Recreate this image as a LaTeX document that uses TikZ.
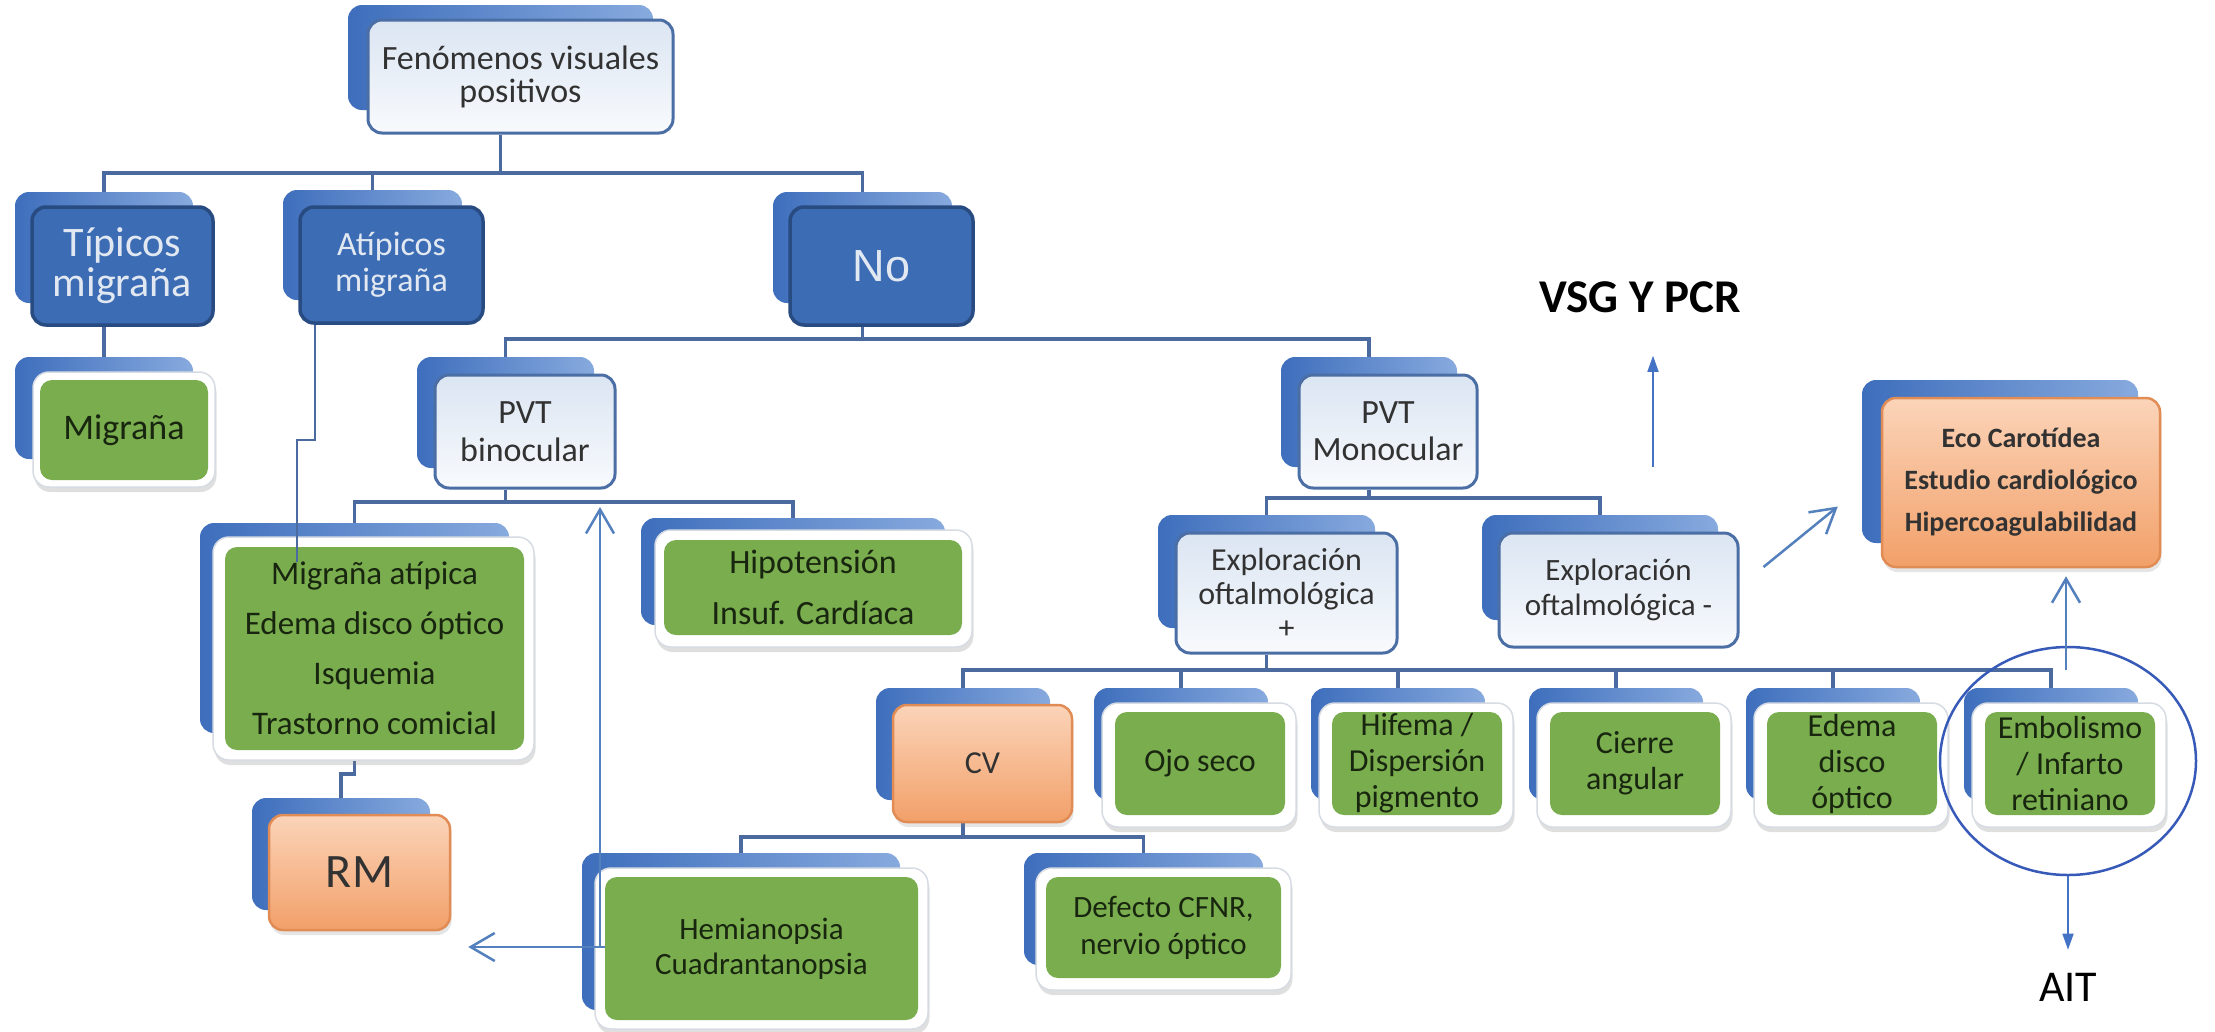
\documentclass[tikz,border=0pt]{standalone}
\usepackage{fontspec}
\setmainfont{Carlito}
\newfontfamily\arialf{Liberation Sans}
\usetikzlibrary{arrows.meta,shapes.geometric,shadows,calc}
\definecolor{connc}{RGB}{74,106,160}
\definecolor{backdark}{RGB}{62,110,188}
\definecolor{backlight}{RGB}{135,170,222}
\definecolor{darkfill}{RGB}{60,108,180}
\definecolor{darkline}{RGB}{40,75,130}
\definecolor{darktext}{RGB}{225,232,242}
\definecolor{lighttop}{RGB}{219,229,242}
\definecolor{lightbot}{RGB}{248,250,253}
\definecolor{lightline}{RGB}{75,110,165}
\definecolor{lighttext}{RGB}{50,50,50}
\definecolor{greenfill}{RGB}{121,173,78}
\definecolor{greentext}{RGB}{25,38,15}
\definecolor{orangetop}{RGB}{251,212,185}
\definecolor{orangebot}{RGB}{242,160,105}
\definecolor{orangeline}{RGB}{226,140,85}
\definecolor{framedge}{RGB}{215,220,228}
\definecolor{openc}{RGB}{84,128,190}
\definecolor{arrowblue}{RGB}{68,114,196}
\definecolor{ellc}{RGB}{55,90,185}
\pgfdeclarelayer{bg}
\pgfsetlayers{bg,main}
\newcommand{\mkbox}[7]{\node[#1, minimum width={(#5-#3)*1pt}, minimum height={(#6-#4)*1pt}] (#2) at ({(#3+#5)/2},{(#4+#6)/2}) {#7};}
\tikzset{
  conn/.style={draw=connc, line width=3.5pt},
  backbox/.style={rounded corners=14pt, left color=backdark, right color=backlight, draw=none, inner sep=0pt},
  darkbox/.style={rounded corners=14pt, fill=darkfill, draw=darkline, line width=3.5pt, text=darktext, inner sep=0pt, align=center},
  lightbox/.style={rounded corners=14pt, top color=lighttop, bottom color=lightbot, draw=lightline, line width=3pt, text=lighttext, inner sep=0pt, align=center},
  framebox/.style={rounded corners=16pt, fill=white, draw=framedge, line width=1.5pt, drop shadow={opacity=0.25, shadow xshift=1.5pt, shadow yshift=-5pt}, inner sep=0pt},
  greenbox/.style={rounded corners=12pt, fill=greenfill, draw=none, text=greentext, inner sep=0pt, align=center},
  orangebox/.style={rounded corners=14pt, top color=orangetop, bottom color=orangebot, draw=orangeline, line width=2.5pt, text=lighttext, inner sep=0pt, align=center, drop shadow={opacity=0.2, shadow xshift=1.5pt, shadow yshift=-5pt}},
  openarrow/.style={draw=openc, line width=2.5pt, -{Straight Barb[length=24pt,width=28pt]}},
  fillarrow/.style={draw=arrowblue, line width=1.6pt, -{Triangle[length=16pt,width=11pt]}},
}
\begin{document}
\begin{tikzpicture}[x=1pt,y=-1pt]
\useasboundingbox (0,0) rectangle (2215,1031);
% level 0
\mkbox{backbox}{topback}{348}{5}{653}{110}{}
\mkbox{lightbox,font=\fontsize{34}{33}\selectfont}{topfront}{368}{20}{673}{133}{Fenómenos visuales\\positivos}
% level 1
\mkbox{backbox}{tipback}{15}{192}{193}{303}{}
\mkbox{darkbox,font=\fontsize{42}{40}\selectfont}{tipfront}{32}{207}{213}{325}{Típicos\\migraña}
\mkbox{backbox}{atback}{283}{190}{462}{300}{}
\mkbox{darkbox,font=\fontsize{34}{36}\selectfont}{atfront}{300}{207}{483}{323}{Atípicos\\migraña}
\mkbox{backbox}{noback}{773}{192}{952}{303}{}
\mkbox{darkbox,font=\arialf\fontsize{45}{45}\selectfont}{nofront}{790}{207}{973}{325}{No}
% Migraña
\mkbox{backbox}{migback}{15}{357}{193}{459}{}
\mkbox{framebox}{migfr}{33}{372}{215}{487}{}
\mkbox{greenbox,font=\fontsize{36}{36}\selectfont}{mig}{40}{380}{208}{480}{Migraña}
% PVT
\mkbox{backbox}{pvtbback}{417}{357}{594}{468}{}
\mkbox{lightbox,font=\fontsize{34}{38}\selectfont}{pvtbfront}{435}{375}{615}{488}{PVT\\binocular}
\mkbox{backbox}{pvtmback}{1281}{357}{1457}{467}{}
\mkbox{lightbox,font=\fontsize{34}{37}\selectfont}{pvtmfront}{1299}{375}{1477}{488}{PVT\\Monocular}
% binocular children
\mkbox{backbox}{maback}{200}{523}{509}{733}{}
\mkbox{framebox}{mafr}{213}{537}{534}{760}{}
\mkbox{greenbox,font=\fontsize{33}{50}\selectfont}{ma}{225}{547}{524}{750}{Migraña atípica\\Edema disco óptico\\Isquemia\\Trastorno comicial}
\mkbox{backbox}{hipback}{641}{518}{945}{625}{}
\mkbox{framebox}{hipfr}{655}{530}{972}{647}{}
\mkbox{greenbox,font=\fontsize{34}{51}\selectfont}{hip}{664}{540}{962}{635}{Hipotensión\\Insuf. Cardíaca}
% RM
\mkbox{backbox}{rmback}{252}{798}{430}{910}{}
\mkbox{orangebox,font=\fontsize{48}{48}\selectfont}{rmfront}{269}{815}{450}{930}{RM}
% exploración
\mkbox{backbox}{expback}{1158}{515}{1375}{628}{}
\mkbox{lightbox,font=\fontsize{32}{34}\selectfont}{expfront}{1176}{533}{1397}{653}{Exploración\\oftalmológica\\+}
\mkbox{backbox}{exmback}{1482}{515}{1718}{620}{}
\mkbox{lightbox,font=\fontsize{31}{35}\selectfont}{exmfront}{1499}{533}{1738}{647}{Exploración\\oftalmológica -}
% Eco
\mkbox{backbox}{ecoback}{1862}{380}{2138}{543}{}
\mkbox{orangebox,font=\bfseries\fontsize{28}{42}\selectfont}{ecofront}{1882}{398}{2160}{567}{Eco Carotídea\\Estudio cardiológico\\Hipercoagulabilidad}
% six children
\mkbox{backbox}{cvback}{876}{688}{1050}{800}{}
\mkbox{orangebox,font=\fontsize{32}{32}\selectfont}{cvfront}{893}{705}{1072}{822}{CV}
\mkbox{backbox}{ojoback}{1094}{688}{1268}{800}{}
\mkbox{framebox}{ojofr}{1102}{703}{1296}{827}{}
\mkbox{greenbox,font=\fontsize{32}{36}\selectfont}{ojo}{1115}{712}{1285}{815}{Ojo seco}
\mkbox{backbox}{hifback}{1311}{688}{1485}{800}{}
\mkbox{framebox}{hiffr}{1319}{703}{1513}{827}{}
\mkbox{greenbox,font=\fontsize{32}{36}\selectfont}{hif}{1332}{712}{1502}{815}{Hifema /\\Dispersión\\pigmento}
\mkbox{backbox}{cieback}{1529}{688}{1703}{800}{}
\mkbox{framebox}{ciefr}{1537}{703}{1731}{827}{}
\mkbox{greenbox,font=\fontsize{32}{36}\selectfont}{cie}{1550}{712}{1720}{815}{Cierre\\angular}
\mkbox{backbox}{edback}{1746}{688}{1920}{800}{}
\mkbox{framebox}{edfr}{1754}{703}{1948}{827}{}
\mkbox{greenbox,font=\fontsize{32}{36}\selectfont}{ed}{1767}{712}{1937}{815}{Edema\\disco\\óptico}
\mkbox{backbox}{embback}{1964}{688}{2138}{800}{}
\mkbox{framebox}{embfr}{1972}{703}{2166}{827}{}
\mkbox{greenbox,font=\fontsize{32}{36}\selectfont}{emb}{1985}{712}{2155}{815}{Embolismo\\/ Infarto\\retiniano}
% CV children
\mkbox{backbox}{hemback}{582}{853}{900}{1010}{}
\mkbox{framebox}{hemfr}{595}{868}{928}{1029}{}
\mkbox{greenbox,font=\fontsize{31}{35}\selectfont}{hem}{605}{877}{918}{1020}{Hemianopsia\\Cuadrantanopsia}
\mkbox{backbox}{defback}{1024}{853}{1263}{965}{}
\mkbox{framebox}{deffr}{1036}{868}{1291}{990}{}
\mkbox{greenbox,font=\fontsize{31}{37}\selectfont}{def}{1046}{877}{1281}{978}{Defecto CFNR,\\nervio óptico}
% free labels
\node[font=\bfseries\fontsize{47}{47}\selectfont, inner sep=0pt] (vsg) at (1640,297) {VSG Y PCR};
\node[font=\fontsize{44}{44}\selectfont, inner sep=0pt] (ait) at (2068,987) {AIT};
\node[ellipse, draw=ellc, line width=2.5pt, minimum width=256pt, minimum height=228pt, inner sep=0pt] (circ) at (2068,761) {};
% bus coordinates
\coordinate (bus1) at (0,173);
\coordinate (bus2) at (0,339);
\coordinate (bus3) at (0,502);
\coordinate (bus4) at (0,498);
\coordinate (bus5) at (0,670);
\coordinate (bus6) at (0,837);
\begin{pgfonlayer}{bg}
\fill[white] (0,0) rectangle (2215,1031);
\draw[conn] (topback |- topfront.south) -- (topback |- bus1);
\draw[conn] (tipback.north) -- (tipback |- bus1) -- (noback |- bus1) -- (noback.north);
\draw[conn] (atback |- bus1) -- (atback.north);
\draw[conn] (tipback |- tipfront.south) -- (migback.north);
\draw[conn] (noback |- nofront.south) -- (noback |- bus2);
\draw[conn] (pvtbback.north) -- (pvtbback |- bus2) -- (pvtmback |- bus2) -- (pvtmback.north);
\draw[conn] (pvtbback |- pvtbfront.south) -- (pvtbback |- bus3);
\draw[conn] (maback.north) -- (maback |- bus3) -- (hipback |- bus3) -- (hipback.north);
\draw[conn] (maback |- mafr.south) -- ++(0,13) -| (rmback.north);
\draw[conn] (pvtmback |- pvtmfront.south) -- (pvtmback |- bus4);
\draw[conn] (expback.north) -- (expback |- bus4) -- (exmback |- bus4) -- (exmback.north);
\draw[conn] (expback |- expfront.south) -- (expback |- bus5);
\draw[conn] (cvback.north) -- (cvback |- bus5) -- (embback |- bus5) -- (embback.north);
\draw[conn] (ojoback |- bus5) -- (ojoback.north);
\draw[conn] (hifback |- bus5) -- (hifback.north);
\draw[conn] (cieback |- bus5) -- (cieback.north);
\draw[conn] (edback |- bus5) -- (edback.north);
\draw[conn] (cvback |- cvfront.south) -- (cvback |- bus6);
\draw[conn] (hemback.north) -- (hemback |- bus6) -- (defback |- bus6) -- (defback.north);
\end{pgfonlayer}
% odd connector from Atipicos
\coordinate (atjog) at (315,440);
\draw[conn, line width=2.5pt] (atjog |- atfront.south) -- (atjog) -- ++(-18,0) -- ++(0,122);
% arrows
\coordinate (hemarr) at (600,947);
\draw[openarrow, shorten >=5pt] (hemarr) -- (hemarr |- bus3);
\draw[openarrow, shorten >=17pt] (hemarr -| hem.west) -- (hemarr -| rmfront.east);
\draw[openarrow] ($(exmfront.east)+(24,-23)$) -- ($(ecoback.west)+(-24,45)$);
\coordinate (embup) at (2066,670);
\draw[openarrow, shorten >=8pt] (embup) -- (embup |- ecofront.south);
\coordinate (vsgfoot) at (1653,467);
\draw[fillarrow, shorten >=43pt] (vsgfoot) -- (vsgfoot |- vsg.south);
\draw[fillarrow, shorten >=23pt] (circ.south) -- (ait.north);
\end{tikzpicture}
\end{document}
